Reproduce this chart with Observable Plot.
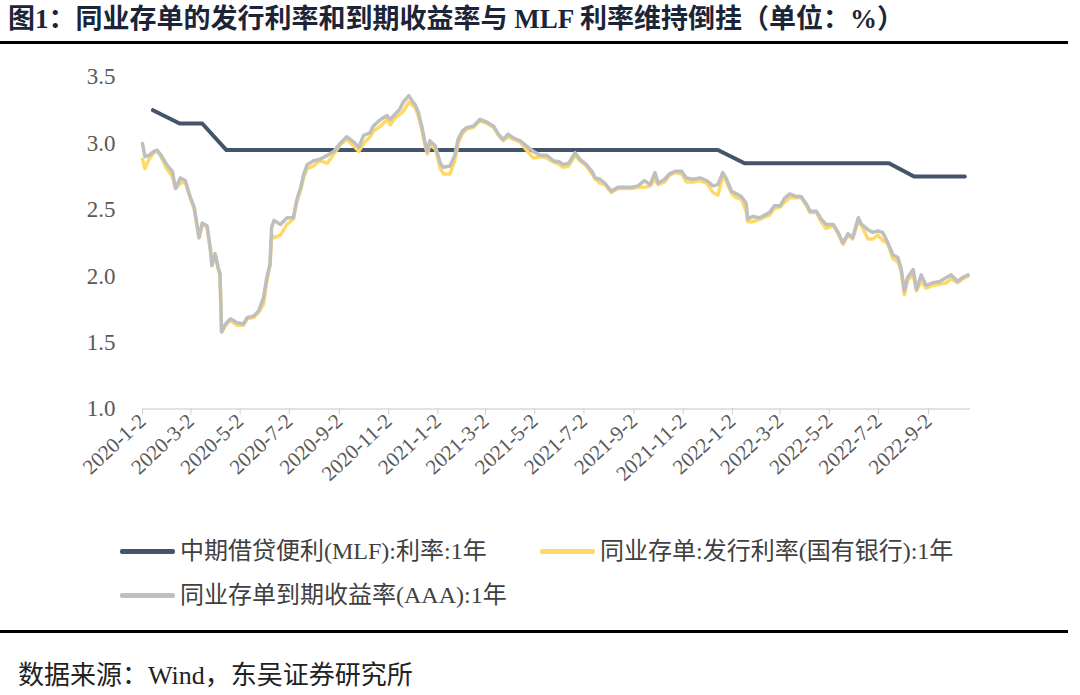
<!DOCTYPE html>
<html><head><meta charset="utf-8">
<script src="https://cdn.jsdelivr.net/npm/d3@7"></script>
<script src="https://cdn.jsdelivr.net/npm/@observablehq/plot@0.6"></script>
<style>
body{margin:0;background:#fff;width:1080px;height:695px;position:relative;overflow:hidden;font-family:"Liberation Serif","Noto Sans CJK SC",serif;}
#title{position:absolute;left:8px;top:2px;font-size:27px;font-weight:bold;color:#1c2538;white-space:nowrap;line-height:34px;}
.rule{position:absolute;left:0;width:1068px;height:3px;background:#000;}
#chart{position:absolute;left:0;top:48px;}
.legend-item{position:absolute;display:flex;align-items:center;font-size:24px;color:#404040;white-space:nowrap;line-height:30px;}
.sw{width:55px;height:5px;margin-right:5px;border-radius:2px;}
#source{position:absolute;left:18px;top:660px;font-size:26px;color:#222;white-space:nowrap;line-height:32px;}
</style></head>
<body>
<div id="title">图1：同业存单的发行利率和到期收益率与 MLF 利率维持倒挂（单位：%）</div>
<div class="rule" style="top:41px"></div>
<div id="chart"></div>
<div id="legend"></div>
<div class="rule" style="top:630px"></div>
<div id="source">数据来源：Wind，东吴证券研究所</div>
<script>
// ---- data ----
const seriesNames = ["中期借贷便利(MLF):利率:1年", "同业存单:发行利率(国有银行):1年", "同业存单到期收益率(AAA):1年"];
const seriesColors = ["#44546A", "#FFD966", "#BFBFBF"];

const mlfDates = ["2020-01-15","2020-02-17","2020-03-16","2020-04-15","2020-05-15","2020-06-15","2020-07-15","2020-08-17","2020-09-15","2020-10-15","2020-11-16","2020-12-15",
"2021-01-15","2021-02-08","2021-03-15","2021-04-15","2021-05-17","2021-06-15","2021-07-15","2021-08-16","2021-09-15","2021-10-15","2021-11-15","2021-12-15",
"2022-01-17","2022-02-15","2022-03-15","2022-04-15","2022-05-16","2022-06-15","2022-07-15","2022-08-15","2022-09-15","2022-10-17"];
const mlfRates = [3.25,3.15,3.15,2.95,2.95,2.95,2.95,2.95,2.95,2.95,2.95,2.95,
2.95,2.95,2.95,2.95,2.95,2.95,2.95,2.95,2.95,2.95,2.95,2.95,
2.85,2.85,2.85,2.85,2.85,2.85,2.85,2.75,2.75,2.75];

const cdDates = ["2020-01-02","2020-01-05","2020-01-10","2020-01-16","2020-01-20","2020-01-24","2020-02-01","2020-02-08","2020-02-12","2020-02-18","2020-02-24",
"2020-03-01","2020-03-06","2020-03-10","2020-03-12","2020-03-16","2020-03-22","2020-03-26","2020-03-28","2020-04-01","2020-04-05","2020-04-07","2020-04-09",
"2020-04-14","2020-04-20","2020-04-28","2020-05-06","2020-05-11","2020-05-19","2020-05-25","2020-05-31","2020-06-04","2020-06-08","2020-06-10","2020-06-13",
"2020-06-21","2020-06-29","2020-07-07","2020-07-11","2020-07-16","2020-07-20","2020-07-24","2020-08-01","2020-08-09","2020-08-18","2020-08-26","2020-09-03",
"2020-09-11","2020-09-20","2020-09-26","2020-10-02","2020-10-10","2020-10-14","2020-10-23","2020-10-31","2020-11-04","2020-11-10","2020-11-16","2020-11-20",
"2020-11-27","2020-12-01","2020-12-05","2020-12-09","2020-12-13","2020-12-17","2020-12-20","2020-12-23","2020-12-30","2021-01-05","2021-01-09","2021-01-17",
"2021-01-23","2021-01-27","2021-02-01","2021-02-07","2021-02-15","2021-02-23","2021-03-04","2021-03-12","2021-03-18","2021-03-24","2021-03-30","2021-04-06",
"2021-04-14","2021-04-22","2021-04-30","2021-05-09","2021-05-17","2021-05-25","2021-06-02","2021-06-06","2021-06-13","2021-06-21","2021-06-27","2021-07-05",
"2021-07-12","2021-07-16","2021-07-22","2021-07-28","2021-08-05","2021-08-13","2021-08-22","2021-08-30","2021-09-07","2021-09-15","2021-09-22","2021-09-28",
"2021-10-02","2021-10-10","2021-10-16","2021-10-23","2021-10-31","2021-11-06","2021-11-14","2021-11-23","2021-12-01","2021-12-09","2021-12-15","2021-12-21",
"2021-12-25","2022-01-01","2022-01-07","2022-01-13","2022-01-19","2022-01-21","2022-01-27","2022-02-05","2022-02-17","2022-02-23","2022-03-02","2022-03-08",
"2022-03-14","2022-03-22","2022-03-28","2022-04-04","2022-04-08","2022-04-16","2022-04-22","2022-04-28","2022-05-07","2022-05-13","2022-05-19","2022-05-25",
"2022-05-31","2022-06-07","2022-06-11","2022-06-19","2022-06-25","2022-07-01","2022-07-07","2022-07-13","2022-07-20","2022-07-26","2022-07-30","2022-08-03",
"2022-08-07","2022-08-14","2022-08-18","2022-08-24","2022-08-30","2022-09-07","2022-09-16","2022-09-24","2022-09-30","2022-10-08","2022-10-14","2022-10-21"];

const cdYield = [3.00,2.90,2.91,2.94,2.95,2.92,2.84,2.79,2.66,2.74,2.72,
2.60,2.52,2.37,2.29,2.40,2.38,2.21,2.08,2.17,2.06,2.02,1.58,
1.64,1.68,1.65,1.64,1.69,1.70,1.74,1.84,1.99,2.09,2.37,2.42,
2.39,2.44,2.44,2.57,2.67,2.77,2.84,2.87,2.88,2.91,2.94,3.00,
3.05,3.01,2.97,3.06,3.08,3.13,3.18,3.21,3.18,3.22,3.26,3.31,
3.36,3.32,3.29,3.23,3.13,3.01,2.94,3.02,2.98,2.85,2.82,2.83,
2.91,3.03,3.09,3.12,3.13,3.18,3.16,3.13,3.07,3.03,3.07,3.04,
3.02,2.98,2.94,2.91,2.91,2.87,2.86,2.84,2.85,2.93,2.88,2.84,
2.79,2.74,2.73,2.70,2.64,2.67,2.67,2.67,2.68,2.72,2.69,2.78,
2.70,2.73,2.77,2.79,2.79,2.74,2.73,2.74,2.72,2.68,2.69,2.78,
2.74,2.64,2.62,2.60,2.55,2.43,2.45,2.44,2.48,2.53,2.53,2.59,
2.62,2.60,2.60,2.54,2.49,2.49,2.43,2.39,2.39,2.33,2.25,2.32,
2.29,2.44,2.39,2.35,2.33,2.34,2.33,2.26,2.16,2.14,2.06,1.89,
1.99,2.05,1.90,2.01,1.93,1.95,1.96,1.99,2.01,1.96,1.99,2.01];

const cdIssue = [2.88,2.81,2.88,2.93,2.94,2.91,2.81,2.75,2.66,2.70,2.71,
2.59,2.51,2.36,2.29,2.39,2.37,2.20,2.08,2.16,2.05,2.01,1.58,
1.63,1.67,1.63,1.63,1.68,1.69,1.73,1.79,1.96,2.08,2.31,2.29,
2.31,2.39,2.43,2.56,2.65,2.75,2.81,2.83,2.87,2.85,2.92,2.99,
3.03,2.98,2.94,3.00,3.05,3.09,3.13,3.18,3.14,3.19,3.22,3.24,
3.31,3.29,3.27,3.20,3.11,2.99,2.92,2.99,2.96,2.81,2.77,2.77,
2.87,3.00,3.07,3.11,3.12,3.17,3.15,3.12,3.06,3.02,3.05,3.03,
3.01,2.95,2.89,2.90,2.89,2.86,2.84,2.82,2.83,2.91,2.87,2.83,
2.77,2.73,2.70,2.69,2.63,2.66,2.66,2.66,2.67,2.67,2.68,2.73,
2.69,2.71,2.76,2.78,2.77,2.71,2.71,2.72,2.70,2.63,2.61,2.75,
2.72,2.62,2.59,2.58,2.49,2.41,2.41,2.43,2.46,2.51,2.52,2.56,
2.59,2.59,2.59,2.53,2.48,2.48,2.41,2.36,2.38,2.32,2.24,2.31,
2.28,2.42,2.38,2.28,2.28,2.31,2.27,2.25,2.13,2.11,2.04,1.86,
1.97,2.01,1.89,1.96,1.91,1.93,1.94,1.95,1.98,1.95,1.98,2.00];

const yTicks = [1.0, 1.5, 2.0, 2.5, 3.0, 3.5];
const xTickLabels = ["2020-1-2","2020-3-2","2020-5-2","2020-7-2","2020-9-2","2020-11-2","2021-1-2","2021-3-2","2021-5-2","2021-7-2","2021-9-2","2021-11-2",
"2022-1-2","2022-3-2","2022-5-2","2022-7-2","2022-9-2"];
const xDomain = ["2020-01-02", "2022-10-24"];

// ---- build ----
const parse = d3.utcParse("%Y-%m-%d");
const mlf = mlfDates.map((d, i) => ({date: parse(d), value: mlfRates[i]}));
const yieldData = cdDates.map((d, i) => ({date: parse(d), value: cdYield[i]}));
const issueData = cdDates.map((d, i) => ({date: parse(d), value: cdIssue[i]}));
const xTicks = xTickLabels.map(parse);
const fmt = d => `${d.getUTCFullYear()}-${d.getUTCMonth() + 1}-${d.getUTCDate()}`;

const chart = Plot.plot({
  width: 1080,
  height: 470,
  marginLeft: 142,
  marginRight: 110,
  marginTop: 28.5,
  marginBottom: 109.5,
  style: {fontFamily: '"Liberation Serif","Noto Sans CJK SC",serif', background: "transparent", overflow: "visible"},
  x: {type: "utc", domain: xDomain.map(parse)},
  y: {domain: [1, 3.5]},
  marks: [
    Plot.axisY({ticks: yTicks, tickSize: 0, tickPadding: 27, tickFormat: d => d.toFixed(1), fontSize: 23, fill: "#595959", label: null}),
    Plot.ruleY([1], {stroke: "#d9d9d9", strokeWidth: 1.5}),
    Plot.axisX({ticks: xTicks, tickSize: 6, tickPadding: 3, tickRotate: -43, tickFormat: fmt, fontSize: 21, stroke: "#d0d0d0", fill: "#595959", label: null}),
    Plot.line(mlf, {x: "date", y: "value", stroke: seriesColors[0], strokeWidth: 4}),
    Plot.line(issueData, {x: "date", y: "value", stroke: seriesColors[1], strokeWidth: 3.5}),
    Plot.line(yieldData, {x: "date", y: "value", stroke: seriesColors[2], strokeWidth: 3.5})
  ]
});
document.getElementById("chart").appendChild(chart);

const legendPos = [[120, 536], [540, 536], [120, 580]];
const legend = document.getElementById("legend");
seriesNames.forEach((name, i) => {
  const item = document.createElement("div");
  item.className = "legend-item";
  item.style.left = legendPos[i][0] + "px";
  item.style.top = legendPos[i][1] + "px";
  const sw = document.createElement("div");
  sw.className = "sw";
  sw.style.background = seriesColors[i];
  const t = document.createElement("span");
  t.textContent = name;
  item.appendChild(sw);
  item.appendChild(t);
  legend.appendChild(item);
});
</script>
</body></html>
